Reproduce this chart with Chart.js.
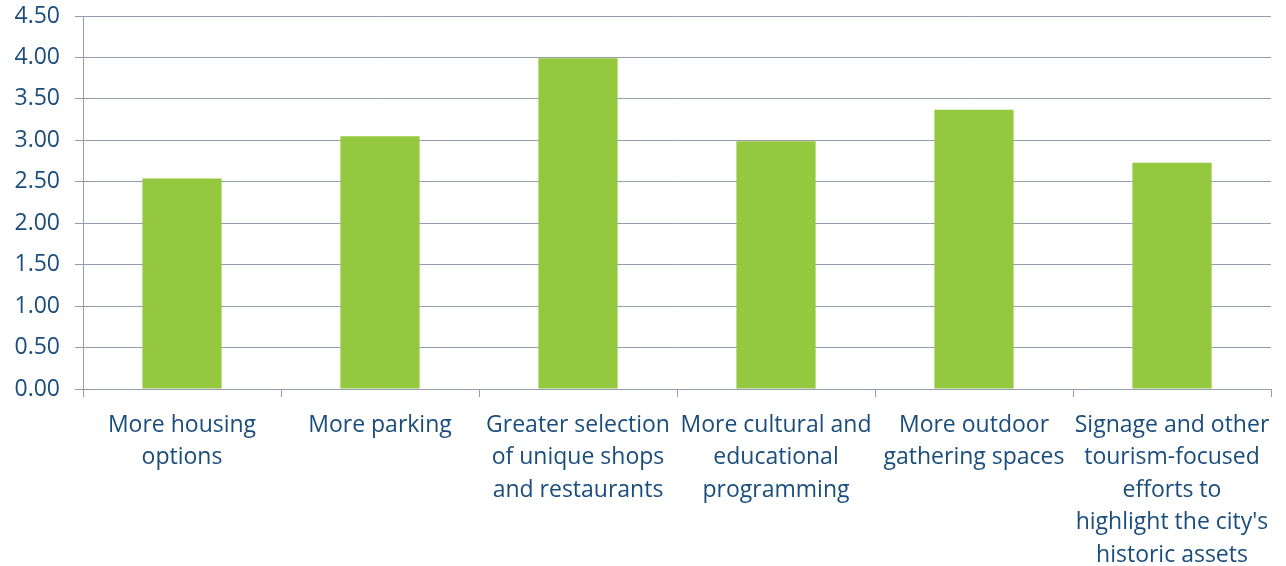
<!DOCTYPE html>
<html>
<head>
<meta charset="utf-8">
<script src="https://cdn.jsdelivr.net/npm/chart.js@4"></script>
<style>
  html, body { margin: 0; padding: 0; background: #fff; }
  #wrap { width: 1286px; height: 566px; }
</style>
</head>
<body>
<div id="wrap"><canvas id="myChart"></canvas></div>
<script>
const categories = [
  ["More housing", "options"],
  ["More parking"],
  ["Greater selection", "of unique shops", "and restaurants"],
  ["More cultural and", "educational", "programming"],
  ["More outdoor", "gathering spaces"],
  ["Signage and other", "tourism-focused", "efforts to", "highlight the city's", "historic assets"],
];
const scores = [2.54, 3.05, 3.99, 2.99, 3.37, 2.73];
const yTicks = [0, 0.5, 1, 1.5, 2, 2.5, 3, 3.5, 4, 4.5];

const colors = {
  bar: "#94C83E",
  grid: "#939DB2",
  text: "#1A4D7C",
};

const ctx = document.getElementById("myChart").getContext("2d");
const myChart = new Chart(ctx, {
  type: "bar",
  data: {
    labels: categories,
    datasets: [
      {
        data: scores,
        backgroundColor: colors.bar,
        borderWidth: 0,
        barPercentage: 0.4,
        categoryPercentage: 1,
      },
    ],
  },
  options: {
    responsive: true,
    maintainAspectRatio: false,
    animation: false,
    layout: { padding: { top: 16, right: 15, left: 0, bottom: 0 } },
    plugins: { legend: { display: false }, tooltip: { enabled: false } },
    scales: {
      x: {
        afterFit: (scale) => {
          scale.height = 177;
          scale.paddingLeft = 0;
          scale.paddingRight = 0;
        },
        grid: {
          drawOnChartArea: false,
          drawTicks: true,
          tickLength: 8,
          color: colors.grid,
          lineWidth: 1,
        },
        border: { color: colors.grid, width: 1 },
        ticks: {
          color: colors.text,
          font: { family: "Open Sans", size: 23, lineHeight: 1.413 },
          maxRotation: 0,
          autoSkip: false,
          padding: 12,
        },
      },
      y: {
        min: 0,
        max: 4.5,
        afterFit: (scale) => {
          scale.width = 83;
          scale.paddingTop = 0;
          scale.paddingBottom = 0;
        },
        afterBuildTicks: (scale) => { scale.ticks = yTicks.map((v) => ({ value: v })); },
        grid: {
          color: colors.grid,
          lineWidth: 1,
          tickLength: 8,
        },
        border: { color: colors.grid, width: 1 },
        ticks: {
          color: colors.text,
          font: { family: "Open Sans", size: 23 },
          padding: 15,
          callback: (v) => Number(v).toFixed(2),
        },
      },
    },
  },
});
</script>
</body>
</html>
